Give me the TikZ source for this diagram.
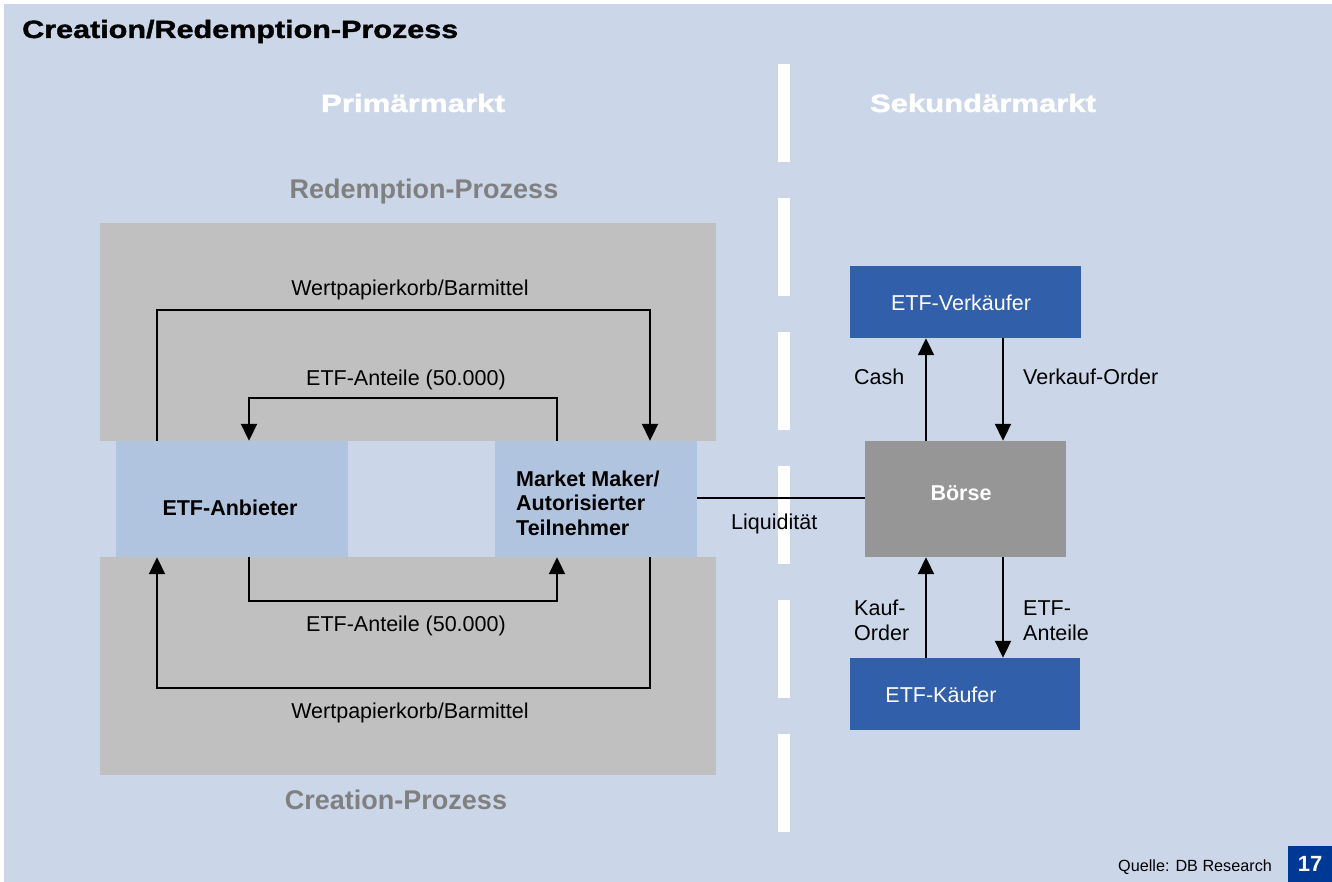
\documentclass[tikz,border=0pt]{standalone}
\usepackage{fontspec}
\usepackage{graphicx}
\setmainfont{Liberation Sans}
\newfontfamily\blackfont{Liberation Sans Bold}[FakeBold=1.3]
\usetikzlibrary{arrows.meta,calc}
\definecolor{bgblue}{HTML}{CBD7E9}
\definecolor{boxgray}{HTML}{C0C0C0}
\definecolor{nodeblue}{HTML}{B0C4E0}
\definecolor{darkblue}{HTML}{315FAA}
\definecolor{boersegray}{HTML}{969696}
\definecolor{badgeblue}{HTML}{003896}
\definecolor{headgray}{HTML}{808080}
\newcommand\bodyfont{\fontsize{21.5}{24.5}\selectfont}
\newcommand\headfont{\fontsize{27}{32}\selectfont\bfseries}
\newcommand\heavyfont{\fontsize{25}{30}\selectfont\blackfont}
\begin{document}
\begin{tikzpicture}[x=1pt,y=-1pt,
  lbl/.style={inner sep=0pt, font=\bodyfont, text=black},
  arr/.style={line width=2pt, -{Triangle[length=17pt,width=16pt]}},
  ln/.style={line width=2pt},
  procbox/.style={fill=nodeblue, inner sep=0pt},
  mktbox/.style={fill=darkblue, inner sep=0pt, text=white, font=\bodyfont}
]
\useasboundingbox (0,0) rectangle (1332,882);
\fill[white] (0,0) rectangle (1332,882);
\fill[bgblue] (4,4) rectangle (1332,882);

% title
\node[anchor=base west, inner sep=0pt] (title) at (22,38)
  {\resizebox{436pt}{\height}{\heavyfont Creation/Redemption-Prozess}};
\node[anchor=base, inner sep=0pt, text=white] (prim) at (413,112)
  {\resizebox{184pt}{\height}{\heavyfont Primärmarkt}};
\node[anchor=base, inner sep=0pt, text=white] (sek) at (983,112)
  {\resizebox{226pt}{\height}{\heavyfont Sekundärmarkt}};

% dashed divider
\draw[white, line width=12pt, dash pattern=on 98pt off 36pt] (784,64) -- (784,832);

% gray process areas
\fill[boxgray] (100,223) rectangle (716,441);
\fill[boxgray] (100,557) rectangle (716,775);
\node[anchor=base, inner sep=0pt, text=headgray, font=\headfont] (redem) at (424,199) {Redemption-Prozess};
\node[anchor=base, inner sep=0pt, text=headgray, font=\headfont] (creat) at (396,809) {Creation-Prozess};

% primary nodes
\node[procbox, minimum width=232pt, minimum height=116pt] (anb) at (232,499) {};
\node[lbl, anchor=base, font=\bodyfont\bfseries] (anbt) at (230,515) {ETF-Anbieter};
\node[procbox, minimum width=202pt, minimum height=116pt] (mm) at (596,499) {};
\node[lbl, anchor=base west, font=\bodyfont\bfseries] (mmt) at (516,486) {Market Maker/};
\node[lbl, anchor=base west, font=\bodyfont\bfseries] (mmt2) at (516,510) {Autorisierter};
\node[lbl, anchor=base west, font=\bodyfont\bfseries] (mmt3) at (516,535) {Teilnehmer};

\coordinate (xa) at (157,0);
\coordinate (xb) at (249,0);
\coordinate (xc) at (557,0);
\coordinate (xd) at (650,0);

% redemption arrows
\draw[arr] (anb.north -| xa) -- ++(0,-131) -| (mm.north -| xd);
\draw[arr] (mm.north -| xc) -- ++(0,-43) -| (anb.north -| xb);
\node[lbl, anchor=base] (l1) at (410,296) {Wertpapierkorb/Barmittel};
\node[lbl, anchor=base] (l2) at (406,385) {ETF-Anteile (50.000)};

% creation arrows
\draw[arr] (anb.south -| xb) -- ++(0,44) -| (mm.south -| xc);
\draw[arr] (mm.south -| xd) -- ++(0,131) -| (anb.south -| xa);
\node[lbl, anchor=base] (l3) at (406,631) {ETF-Anteile (50.000)};
\node[lbl, anchor=base] (l4) at (410,718) {Wertpapierkorb/Barmittel};

% secondary market
\node[mktbox, minimum width=231pt, minimum height=72pt] (verk) at (965.5,302) {};
\node[lbl, anchor=base, text=white] (verkt) at (961,310) {ETF-Verkäufer};
\node[fill=boersegray, inner sep=0pt, minimum width=201pt, minimum height=116pt] (boerse) at (965.5,499) {};
\node[lbl, anchor=base, text=white, font=\bodyfont\bfseries] (boerset) at (961,500) {Börse};
\node[mktbox, minimum width=230pt, minimum height=72pt] (kauf) at (965,694) {};
\node[lbl, anchor=base, text=white] (kauft) at (941,702) {ETF-Käufer};

\coordinate (xe) at (926,0);
\coordinate (xf) at (1003,0);
\draw[arr] (boerse.north -| xe) -- (verk.south -| xe);
\draw[arr] (verk.south -| xf) -- (boerse.north -| xf);
\draw[arr] (kauf.north -| xe) -- (boerse.south -| xe);
\draw[arr] (boerse.south -| xf) -- (kauf.north -| xf);
\node[lbl, anchor=base west] (cash) at (854,384) {Cash};
\node[lbl, anchor=base west] (vo) at (1023,384) {Verkauf-Order};
\node[lbl, anchor=base west, align=left] (ko) at (854,640) {Kauf-\\Order};
\node[lbl, anchor=base west, align=left] (ea) at (1023,640) {ETF-\\Anteile};

% liquidity
\draw[ln] (mm.east |- 0,498) -- (boerse.west |- 0,498);
\node[lbl, anchor=base west] (liq) at (731,529) {Liquidität};

% footer
\node[anchor=base west, inner sep=0pt, font=\fontsize{16.2}{18}\selectfont] (quelle) at (1118,871) {Quelle: DB Research};
\node[fill=badgeblue, inner sep=0pt, minimum width=44pt, minimum height=36pt, text=white, font=\fontsize{22}{26}\selectfont\bfseries] (badge) at (1310,864) {17};
\end{tikzpicture}
\end{document}
